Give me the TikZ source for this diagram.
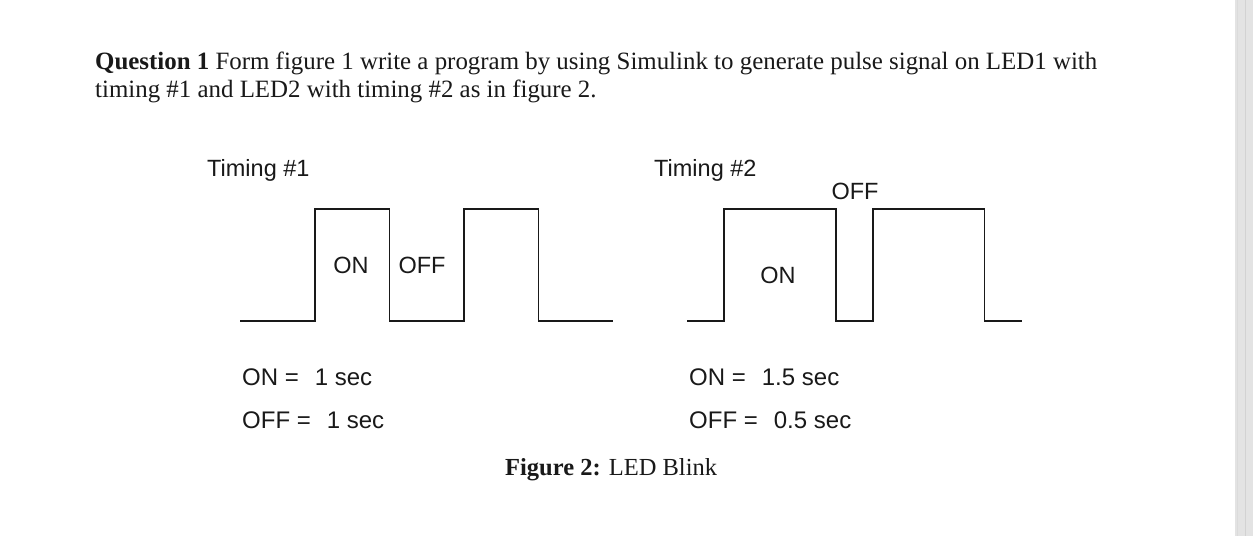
\documentclass[tikz,border=0pt]{standalone}
\usepackage{fontspec}
\setmainfont{Liberation Serif}
\newfontfamily\arialfont{Liberation Sans}
\begin{document}
\begin{tikzpicture}[x=1pt,y=-1pt,
  wave/.style={line width=1.8pt,line join=miter,black!90},
  lbl/.style={font=\arialfont\fontsize{23.5}{23.5}\selectfont,inner sep=0pt,text=black!90},
  para/.style={font=\fontsize{24.9}{28}\selectfont,inner sep=0pt,anchor=base west,text=black!90},
  val/.style={lbl,anchor=base west},
  valb/.style={val,font=\arialfont\fontsize{24}{24}\selectfont}]
\useasboundingbox (0,0) rectangle (1253,536);
\fill[white] (0,0) rectangle (1253,536);
% scrollbar strip
\fill[gray!22] (1235,0) rectangle (1253,536);
\draw[gray!35,line width=0.8pt] (1245,0) -- (1245,536);
\draw[gray!28,line width=0.6pt] (1237,0) -- (1237,536);
% question text
\node[para] (q1) at (95,69) {\textbf{Question 1} Form figure 1 write a program by using Simulink to generate pulse signal on LED1 with};
\node[para] (q2) at (95,97) {timing \#1 and LED2 with timing \#2 as in figure 2.};
% titles
\node[val] (t1) at (207,176) {Timing \#1};
\node[val] (t2) at (654,176) {Timing \#2};
% waveform 1
\draw[wave] (240,321) -- (315,321) -- (315,209) -- (389.5,209) -- (389.5,321) -- (464,321) -- (464,209) -- (538.5,209) -- (538.5,321) -- (613,321);
\node[lbl] (on1) at (351,265) {ON};
\node[lbl] (off1) at (422,265) {OFF};
% waveform 2
\draw[wave] (687,321) -- (724,321) -- (724,209) -- (836,209) -- (836,321) -- (873,321) -- (873,209) -- (984.5,209) -- (984.5,321) -- (1022,321);
\node[lbl] (on2) at (778,275) {ON};
\node[lbl] (off2) at (855,191) {OFF};
% values
\node[valb] (v1) at (242,385) {ON =\hspace{16pt}1 sec};
\node[valb] (v2) at (242,428.5) {OFF =\hspace{16pt}1 sec};
\node[valb] (v3) at (689,385) {ON =\hspace{16pt}1.5 sec};
\node[valb] (v4) at (689,428.5) {OFF =\hspace{16pt}0.5 sec};
% caption
\node[para,font=\fontsize{24.5}{28}\selectfont] (cap) at (505,475) {\textbf{Figure 2:} LED Blink};
\end{tikzpicture}
\end{document}
